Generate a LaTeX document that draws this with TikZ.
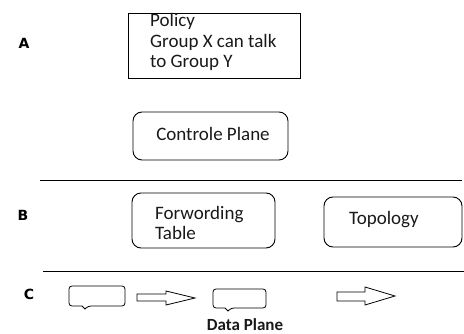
\documentclass[tikz,border=0pt]{standalone}
\usepackage{fontspec}
\setmainfont{Carlito}
\newfontfamily\labelfont{DejaVu Sans}
\begin{document}
\begin{tikzpicture}[x=1pt,y=-1pt,
  txt/.style={font=\fontsize{19}{20.5}\selectfont, text=black!90, inner sep=0pt, align=left, anchor=west},
  lbl/.style={font=\labelfont\bfseries\fontsize{14}{14}\selectfont, inner sep=0pt},
  rbox/.style={draw, line width=0.9pt, rounded corners=9pt},
  sbox/.style={draw, line width=0.9pt},
  sep/.style={line width=0.9pt},
  glyph/.style={draw, line width=0.8pt}]
\useasboundingbox (0,0) rectangle (464,334);
% labels
\node[lbl] (la) at (24,43) {A};
\node[lbl] (lb) at (23,215) {B};
\node[lbl] (lc) at (29,294) {C};
% policy
\draw[sbox] (128,13) rectangle (300,78);
\node[txt] (pol) at (150,42) {Policy\\Group X can talk\\to Group Y};
% control plane
\draw[rbox] (133,112) rectangle (288,160);
\node[txt, anchor=center] (cp) at (213,134) {Controle Plane};
% separators
\coordinate (s1a) at (40,180);
\coordinate (s1b) at (462,180);
\draw[sep] (s1a) -- (s1b);
\coordinate (s2a) at (43,271);
\coordinate (s2b) at (464,271);
\draw[sep] (s2a) -- (s2b);
% forwarding table
\draw[rbox] (132,193) rectangle (275,248);
\node[txt] (ft) at (155,223) {Forwording\\Table};
% topology
\draw[rbox] (324,197) rectangle (462,247);
\node[txt, anchor=center] (tp) at (384,220) {Topology};
% packets
\draw[glyph, rounded corners=3pt] (69,286) -- (125,286) -- (125,306) -- (88,306)
  [sharp corners] -- (85,309) -- (82,306) [rounded corners=3pt] -- (69,306) -- cycle;
\draw[glyph, rounded corners=3pt] (213,289) -- (266,289) -- (266,308) -- (231,308)
  [sharp corners] -- (228,311) -- (225,308) [rounded corners=3pt] -- (213,308) -- cycle;
% block arrows
\draw[glyph] (137,294) -- (166,294) -- (166,291) -- (195,298) -- (166,305) -- (166,301) -- (137,301) -- cycle;
\draw[glyph] (337,292) -- (365,292) -- (365,287) -- (395,296) -- (365,305) -- (365,301) -- (337,301) -- cycle;
% data plane
\node[font=\bfseries\fontsize{17}{17}\selectfont, text=black!90, inner sep=0pt] (dp) at (245,325) {Data Plane};
\end{tikzpicture}
\end{document}
